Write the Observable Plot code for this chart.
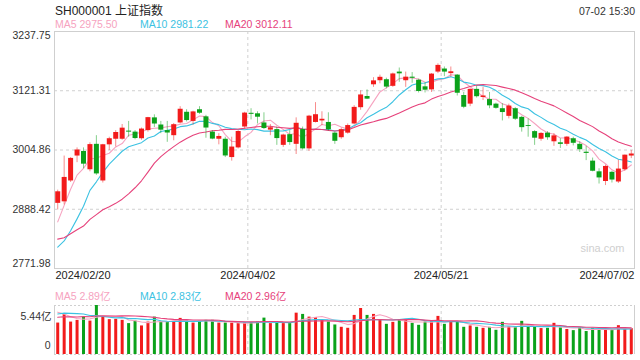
<!DOCTYPE html>
<html><head><meta charset="utf-8">
<script src="https://cdn.jsdelivr.net/npm/d3@7"></script>
<script src="https://cdn.jsdelivr.net/npm/@observablehq/plot@0.6"></script>
<style>
body{margin:0;background:#fff;}
#wrap{position:relative;width:640px;height:360px;overflow:hidden;background:#fff;font-family:"Liberation Sans",Arial,"Noto Sans CJK SC",sans-serif;}
.t{position:absolute;white-space:nowrap;line-height:1;}
#main,#vol{position:absolute;left:0;}
#main{top:0;} #vol{top:290px;}
</style></head><body>
<div id="wrap">
  <div class="t" id="title" style="left:55px;top:5px;font-size:12px;color:#222;"></div>
  <div class="t" id="time" style="right:5px;top:6px;font-size:10.5px;color:#333;"></div>
  <div id="maRow"></div>
  <div id="volMaRow"></div>
  <div id="main"></div>
  <div id="vol"></div>
</div>
<script>
// ---------- data ----------
const stockName = "SH000001 上证指数";
const stampText = "07-02 15:30";
const dates = ["2024/02/20","2024/02/21","2024/02/22","2024/02/23","2024/02/26","2024/02/27","2024/02/28","2024/02/29",
"2024/03/01","2024/03/04","2024/03/05","2024/03/06","2024/03/07","2024/03/08","2024/03/11","2024/03/12","2024/03/13","2024/03/14","2024/03/15",
"2024/03/18","2024/03/19","2024/03/20","2024/03/21","2024/03/22","2024/03/25","2024/03/26","2024/03/27","2024/03/28","2024/03/29",
"2024/04/01","2024/04/02","2024/04/03","2024/04/08","2024/04/09","2024/04/10","2024/04/11","2024/04/12","2024/04/15","2024/04/16",
"2024/04/17","2024/04/18","2024/04/19","2024/04/22","2024/04/23","2024/04/24","2024/04/25","2024/04/26","2024/04/29","2024/04/30",
"2024/05/06","2024/05/07","2024/05/08","2024/05/09","2024/05/10","2024/05/13","2024/05/14","2024/05/15","2024/05/16","2024/05/17",
"2024/05/20","2024/05/21","2024/05/22","2024/05/23","2024/05/24","2024/05/27","2024/05/28","2024/05/29","2024/05/30","2024/05/31",
"2024/06/03","2024/06/04","2024/06/05","2024/06/06","2024/06/07","2024/06/11","2024/06/12","2024/06/13","2024/06/14","2024/06/17",
"2024/06/18","2024/06/19","2024/06/20","2024/06/21","2024/06/24","2024/06/25","2024/06/26","2024/06/27","2024/06/28","2024/07/01","2024/07/02"];
const open = [2900,2903,2944,2993,3002,2966,3016,2944,3015,3026,3026,3042,3040,3027,3043,3068,3054,3043,3033,3058,3079,3061,3084,3070,3040,3026,3026,2990,3009,
3050,3077,3076,3058,3044,3045,3014,3035,3016,3045,3007,3059,3062,3059,3038,3029,3038,3056,3088,3110,
3133,3141,3143,3130,3158,3141,3148,3142,3129,3123,3158,3164,3155,3152,3112,3095,3124,3108,3104,3095,
3086,3071,3086,3069,3053,3041,3026,3038,3021,3019,3016,3027,3016,3000.5,2983,2962,2943,2961,2942,2966,2993];
const high = [2926,2993,2990,3009,3009,3019,3033,3016,3030,3043,3055,3061,3043,3048,3069,3074,3061,3061,3057,3090,3084,3081,3090,3073,3043,3037,3030,3030,3043,
3079,3086,3080,3078,3055,3050,3036,3043,3068,3050,3073,3098,3080,3078,3040,3048,3056,3092,3121,3123,
3147,3152,3146,3156,3166,3158,3157,3144,3137,3155,3174.27,3168,3168,3153,3118,3125,3130,3128,3118,3097,
3096,3095,3088,3071,3066,3043,3039,3041,3037,3027,3031,3030,3021,3012,2989,2968,2975,2963,2985,2995,3004];
const low = [2887,2897,2941,2980,2968,2962,2955,2940,3004,3011,3024,3030,3025,3024,3040,3049,3037,3020,3023,3056,3060,3054,3075,3028,3025,3015,2990,2983,3007,
3046,3064,3056,3045,3033,3014,3010,3014,2996,3005,3002,3058,3053,3042,3016,3026,3036,3054,3083,3104,
3128,3135,3125,3128,3138,3128,3136,3117,3117,3118,3155,3149,3148,3111,3086,3090,3107,3102,3086,3085,
3062,3066,3063,3040,3030,3014,3022,3024,3012,3008,3012,3013,3000,2984,2962,2938,2935,2940,2939,2963,2988];
const close = [2922.73,2950.96,2988.36,3004.88,2977.02,3015.48,2957.85,3015.17,3027.02,3039.31,3047.79,3039.93,3027.40,3046.02,3068.46,3055.94,3043.83,3038.23,3054.64,
3084.93,3062.76,3079.69,3077.11,3048.03,3026.31,3031.48,2993.14,3010.66,3041.17,
3077.38,3074.96,3069.30,3047.05,3048.54,3027.33,3034.25,3019.47,3057.38,3007.07,3071.38,3074.22,3065.26,3044.60,3021.98,3044.82,3052.90,3088.64,3113.04,3104.82,
3140.72,3147.74,3128.48,3154.32,3154.55,3148.02,3145.77,3119.90,3122.40,3154.03,3171.15,3157.97,3158.54,3116.39,3088.87,3124.04,3109.57,3111.02,3091.68,3086.81,
3078.49,3091.20,3065.40,3048.79,3051.28,3028.05,3037.47,3028.92,3032.63,3015.89,3030.25,3018.05,3005.44,2998.14,2963.10,2950.00,2972.53,2945.85,2967.40,2994.73,2997.01];
// closes of the 19 sessions before 2024/02/20 (feed the moving averages)
const priorClose = [2893.99,2833.62,2845.78,2832.28,2756.34,2770.98,2820.77,2906.11,2910.22,2883.36,2830.53,2788.55,2770.74,2730.15,2702.19,2789.49,2829.70,2865.90,2910.54];
// volume, 亿
const volume = [3.49,4.53,3.60,3.79,4.15,3.71,5.44,4.15,3.87,3.90,3.79,3.43,3.71,3.17,3.60,4.15,3.68,3.60,3.68,4.01,3.71,3.49,3.68,3.79,3.79,3.49,3.49,3.49,3.43,
3.54,3.54,3.60,4.04,3.43,3.49,3.43,3.43,4.59,4.45,4.15,4.09,3.79,3.60,3.28,3.02,2.91,4.34,5.11,4.34,
4.45,3.87,3.35,3.57,3.87,3.87,3.46,3.24,3.60,3.71,4.23,3.35,3.57,3.60,3.02,3.17,3.02,2.91,3.02,2.69,
3.57,3.06,2.98,3.68,3.13,3.06,2.88,2.91,3.46,2.96,2.78,2.65,2.98,2.55,2.90,2.77,2.74,2.74,3.20,2.90,2.87];
const priorVolume = [3.6,3.8,3.9,3.5,4.0,3.7,4.0,4.2,3.7,3.4,3.6,3.9,4.0,4.6,5.4,5.6,5.1,4.7,4.6];
const yTicks = [3237.75, 3121.31, 3004.86, 2888.42, 2771.98];
const volMax = 5.44;
const tickDates = ["2024/02/20","2024/04/02","2024/05/21","2024/07/02"];
const maPeriods = [5, 10, 20];
const maValues = ["2975.50", "2981.22", "3012.11"];
const volMaValues = ["2.89", "2.83", "2.96"];
const maColors = ["#f6a3c0", "#3cc2e2", "#e6427b"];
const RED = "#f21b1b", GREEN = "#0ba21a";

// ---------- build ----------
const N = close.length;
const candles = d3.range(N).map(i => ({i, o: open[i], h: high[i], l: low[i], c: close[i], v: volume[i], up: close[i] >= open[i]}));
const P = priorClose.length;
const allClose = priorClose.concat(close).map((c, j) => ({i: j - P, c}));
const allVol = priorVolume.concat(volume).map((v, j) => ({i: j - priorVolume.length, v}));
const upC = candles.filter(d => d.up), dnC = candles.filter(d => !d.up);
const gridIdx = tickDates.slice(1, 3).map(d => dates.indexOf(d) - 0.5);
const font = `"Liberation Sans",Arial,"Noto Sans CJK SC",sans-serif`;

document.getElementById("title").textContent = stockName;
document.getElementById("time").textContent = stampText;
const lefts = [55, 140, 225];
maPeriods.forEach((p, k) => {
  const a = document.createElement("div");
  a.className = "t"; a.style.cssText = `left:${lefts[k]}px;top:19px;font-size:10.5px;color:${maColors[k]};`;
  a.textContent = `MA${p} ${maValues[k]}`;
  document.getElementById("maRow").appendChild(a);
  const b = document.createElement("div");
  b.className = "t"; b.style.cssText = `left:${lefts[k]}px;top:291px;font-size:10.5px;color:${maColors[k]};`;
  b.textContent = `MA${p} ${volMaValues[k]}亿`;
  document.getElementById("volMaRow").appendChild(b);
});

// moving averages over the full series, then keep only the shown sessions
const maLines = (data, key) => maPeriods.map((p, k) =>
  Plot.lineY(data, Plot.filter(d => d.i >= 0, Plot.windowY({k: p, anchor: "end", reduce: "mean"},
    {x: "i", y: key, stroke: maColors[k], strokeWidth: 1.1}))));

const main = Plot.plot({
  width: 640, height: 290,
  marginTop: 31, marginBottom: 22, marginLeft: 54, marginRight: 6,
  style: {fontFamily: font, background: "transparent", overflow: "visible"},
  x: {domain: [-0.5, N - 0.5], axis: null},
  y: {domain: [yTicks[yTicks.length - 1], yTicks[0]], axis: null},
  marks: [
    Plot.ruleY(yTicks.slice(1, -1), {stroke: "#d0d0d0", strokeDasharray: "3,3"}),
    Plot.ruleX(gridIdx, {stroke: "#d0d0d0", strokeDasharray: "3,3"}),
    Plot.frame({stroke: "#cfcfcf"}),
    ...maLines(allClose, "c"),
    Plot.ruleX(upC, {x: "i", y1: "l", y2: "h", stroke: RED, strokeOpacity: 0.5}),
    Plot.ruleX(dnC, {x: "i", y1: "l", y2: "h", stroke: GREEN, strokeOpacity: 0.5}),
    Plot.ruleX(upC, {x: "i", y1: "o", y2: "c", stroke: RED, strokeWidth: 5}),
    Plot.ruleX(dnC, {x: "i", y1: "o", y2: "c", stroke: GREEN, strokeWidth: 5}),
    Plot.text([yTicks[0]], {y: d => d, frameAnchor: "left", textAnchor: "end", dx: -4, dy: 4, text: d => d.toFixed(2), fontSize: 10.5, fill: "#333"}),
    Plot.text(yTicks.slice(1, -1), {y: d => d, frameAnchor: "left", textAnchor: "end", dx: -4, text: d => d.toFixed(2), fontSize: 10.5, fill: "#333"}),
    Plot.text([yTicks[yTicks.length - 1]], {y: d => d, frameAnchor: "left", textAnchor: "end", dx: -4, dy: -5, text: d => d.toFixed(2), fontSize: 10.5, fill: "#333"}),
    Plot.text([tickDates[0]], {x: d => dates.indexOf(d) - 0.5, frameAnchor: "bottom", dy: 10, dx: 1, textAnchor: "start", text: d => d, fontSize: 11, fill: "#222"}),
    Plot.text(tickDates.slice(1, -1), {x: d => dates.indexOf(d) - 0.5, frameAnchor: "bottom", dy: 10, textAnchor: "middle", text: d => d, fontSize: 11, fill: "#222"}),
    Plot.text([tickDates[tickDates.length - 1]], {x: d => dates.indexOf(d) + 0.5, frameAnchor: "bottom", dy: 10, textAnchor: "end", text: d => d, fontSize: 11, fill: "#222"}),
    Plot.text(["sina.com"], {frameAnchor: "bottom-right", dx: -10, dy: -17, text: d => d, fontSize: 11, fill: "#cfcfcf"})
  ]
});
document.getElementById("main").appendChild(main);

const vol = Plot.plot({
  width: 640, height: 70,
  marginTop: 15, marginBottom: 6, marginLeft: 54, marginRight: 6,
  style: {fontFamily: font, background: "transparent", overflow: "visible"},
  x: {domain: [-0.5, N - 0.5], axis: null},
  y: {domain: [0, volMax], axis: null},
  marks: [
    Plot.ruleY([0, volMax], {stroke: "#cfcfcf", strokeDasharray: "2,2"}),
    Plot.ruleX([-0.5, N - 0.5], {stroke: "#cfcfcf"}),
    Plot.ruleX(gridIdx, {stroke: "#d0d0d0", strokeDasharray: "3,3"}),
    Plot.ruleX(upC, {x: "i", y: "v", stroke: RED, strokeWidth: 3}),
    Plot.ruleX(dnC, {x: "i", y: "v", stroke: GREEN, strokeWidth: 3}),
    ...maLines(allVol, "v"),
    Plot.text([volMax], {frameAnchor: "top-left", textAnchor: "end", dx: -3, dy: 7, text: d => `${d}亿`, fontSize: 10.5, fill: "#333"}),
    Plot.text([0], {frameAnchor: "bottom-left", textAnchor: "end", dx: -4, dy: -6, text: d => `${d}`, fontSize: 10.5, fill: "#333"})
  ]
});
document.getElementById("vol").appendChild(vol);
</script>
</body></html>
